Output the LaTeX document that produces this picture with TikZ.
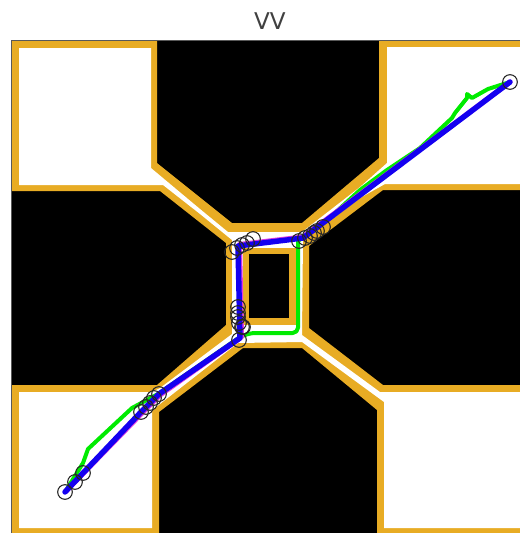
\documentclass[tikz,border=0pt]{standalone}
\usepackage{fontspec}
\setmainfont{DejaVu Sans}
\definecolor{wallorange}{RGB}{232,172,36}
\definecolor{pathgreen}{RGB}{0,235,0}
\definecolor{pathblue}{RGB}{20,0,240}
\definecolor{pathpink}{RGB}{225,60,225}
\tikzset{
  greenpath/.style={draw=pathgreen,line width=3pt,line join=round,line cap=round},
  bluepath/.style={draw=pathblue,line width=4.1pt,line join=round,line cap=round},
  pinkpath/.style={draw=pathpink,line width=3.8pt,line join=round,line cap=round},
  ringmark/.style={draw=black!85,line width=0.8pt,fill=none},
}
\begin{document}
\begin{tikzpicture}[x=0.75pt,y=-0.75pt]
\useasboundingbox (0,0) rectangle (520,533);
\node[font=\fontsize{17.3}{20}\selectfont,inner sep=0pt,text=black!75] (title) at (270,21) {VV};
% obstacle field
\fill[black] (11,40) rectangle (520,533);
% wall band
\fill[wallorange] (11,40) -- (157,40) -- (157,163) -- (232,223) -- (302,223) -- (379,158) -- (379,40)
  -- (520,40) -- (520,190) -- (383,190) -- (309,246) -- (309,328) -- (383,385) -- (520,385)
  -- (520,533) -- (377,533) -- (377,410) -- (302,348) -- (243,348) -- (159,412) -- (159,533)
  -- (11,533) -- (11,385) -- (157,385) -- (226,325) -- (226,243) -- (160,191) -- (11,191) -- cycle;
\draw[black!65,line width=0.6pt] (11,533) -- (11,40) -- (520,40);
% free space
\fill[white] (19,48) -- (151,48) -- (151,168) -- (200,209) -- (228,232) -- (302,232) -- (360,187) -- (387,163) -- (387,47)
  -- (520,47) -- (520,184) -- (385,184) -- (360,198) -- (303,240) -- (302,335) -- (380,392) -- (520,392)
  -- (520,528) -- (384,528) -- (384,402) -- (302,342) -- (238,343) -- (160,404) -- (152,410) -- (152,528)
  -- (19,528) -- (19,392) -- (152,392) -- (160,388) -- (232,334) -- (232,240) -- (200,214) -- (163,185) -- (19,185) -- cycle;
% central island
\fill[wallorange] (243,248) rectangle (297,325);
\fill[black] (249,254) rectangle (289,318);
% paths
\draw[greenpath] (510,82) -- (488,89) -- (472,98) -- (467,94) -- (467,98) -- (455,113) -- (452,118) -- (420,148)
  -- (387,170) -- (360,190) -- (325,222) -- (302,238) -- (298,241)
  -- (298,320) [rounded corners=4pt] -- (298,333) -- (250,333) [sharp corners] -- (240,337) -- (207,360)
  -- (158,394) -- (132,408) -- (88,449) -- (83,463) -- (65,492);
\draw[pinkpath] (510,82) -- (303,237) -- (239.5,244.5) -- (241.5,337) -- (160,395) -- (142,413) -- (66,491);
\draw[bluepath] (510,82) -- (303,238) -- (238,246) -- (240,338) -- (159,394) -- (141,412) -- (65,492);
% samples
\foreach \cx/\cy [count=\i] in {510/82,299/241,305/238,310/236,314/233,317/231,323/227,
  232/252,237/248,242/245,247/243,253/239,
  238/307,238/313,238/317,239/323,242/327,243/327,239/340,
  65/492,75/482,83/473,141/412,146/407,150/403,154/398,159/394}
  \node[ringmark,circle,minimum size=11pt,inner sep=0pt] (s\i) at (\cx,\cy) {};
\end{tikzpicture}
\end{document}
